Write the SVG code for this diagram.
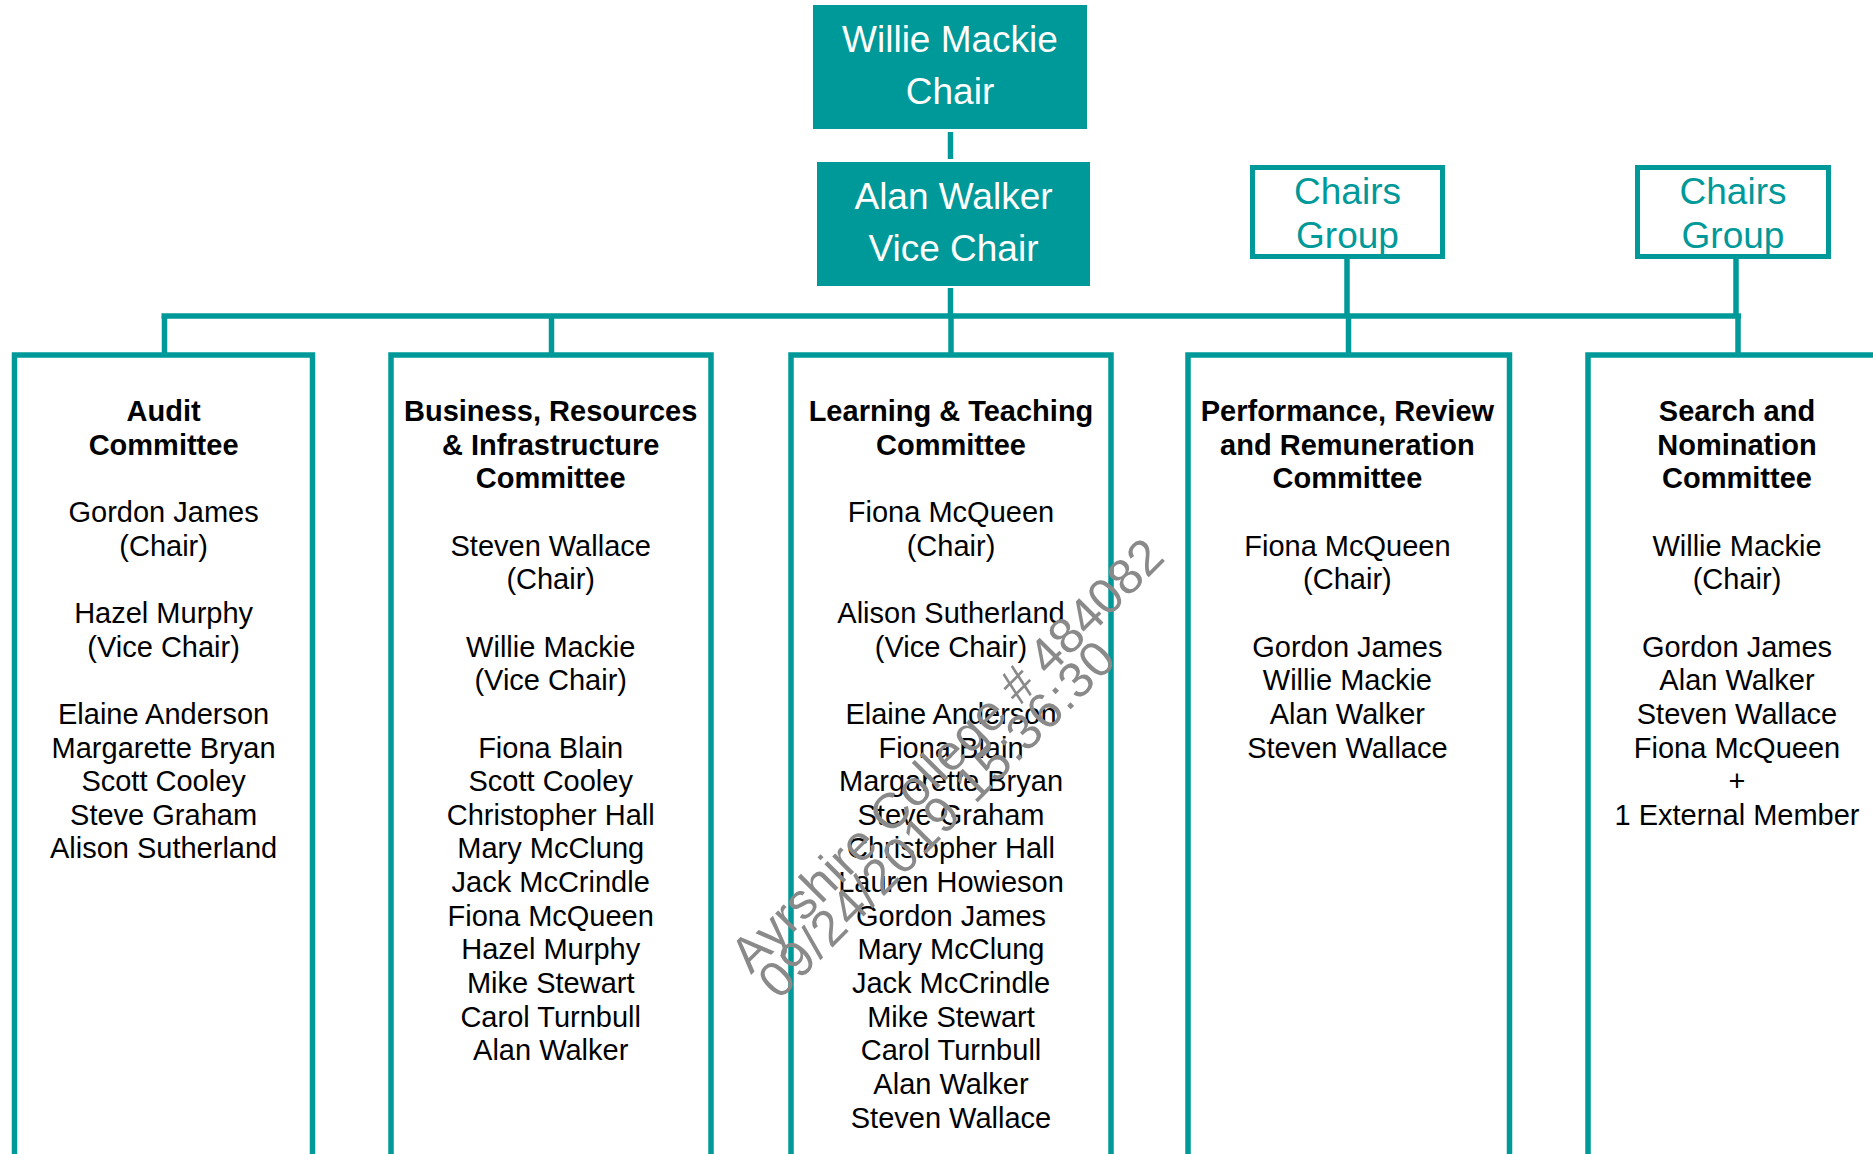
<svg xmlns="http://www.w3.org/2000/svg" width="1873" height="1154" viewBox="0 0 1873 1154">
  <style>
    .solid { fill: #009999; }
    .head { font-family: "Liberation Sans", Arial, sans-serif; font-size: 37px; fill: #ffffff; text-anchor: middle; }
    .grp { fill: #ffffff; stroke: #009999; stroke-width: 5; }
    .grptxt { font-family: "Liberation Sans", Arial, sans-serif; font-size: 37px; fill: #009999; text-anchor: middle; }
    .cbox { fill: none; stroke: #009999; stroke-width: 5.5; }
    .c text { font-family: "Liberation Sans", Arial, sans-serif; font-size: 29px; fill: #000000; text-anchor: middle; }
    .c text.t { font-weight: bold; }
    .wire { stroke: #009999; stroke-width: 5.5; fill: none; }
    .mark { font-family: "Liberation Sans", Arial, sans-serif; font-size: 50px; fill: #8a8a8a; }
  </style>
  <rect width="1873" height="1154" fill="#ffffff"/>

  <!-- connectors -->
  <g id="connectors">
    <line class="wire" x1="950.5" y1="132" x2="950.5" y2="159" stroke-width="7"/>
    <line class="wire" x1="950.5" y1="288" x2="950.5" y2="316" stroke-width="7"/>
    <line class="wire" x1="161.5" y1="316" x2="1741" y2="316" stroke-width="6"/>
    <line class="wire" x1="1347" y1="259" x2="1347" y2="316"/>
    <line class="wire" x1="1736" y1="259" x2="1736" y2="316"/>
    <line class="wire" x1="164.5" y1="316" x2="164.5" y2="355"/>
    <line class="wire" x1="551.5" y1="316" x2="551.5" y2="355"/>
    <line class="wire" x1="951" y1="316" x2="951" y2="355"/>
    <line class="wire" x1="1348.5" y1="316" x2="1348.5" y2="355"/>
    <line class="wire" x1="1738" y1="316" x2="1738" y2="355"/>
  </g>

  <!-- board officers -->
  <g id="chair">
    <rect class="solid" x="813" y="5" width="274" height="124"/>
    <text class="head" x="950" y="52">Willie Mackie</text>
    <text class="head" x="950" y="104">Chair</text>
  </g>
  <g id="vice-chair">
    <rect class="solid" x="817" y="162" width="273" height="124"/>
    <text class="head" x="953.5" y="209">Alan Walker</text>
    <text class="head" x="953.5" y="261">Vice Chair</text>
  </g>

  <!-- chairs groups -->
  <g id="chairs-group-1">
    <rect class="grp" x="1252.5" y="167.5" width="190" height="89"/>
    <text class="grptxt" x="1347.5" y="204">Chairs</text>
    <text class="grptxt" x="1347.5" y="248">Group</text>
  </g>
  <g id="chairs-group-2">
    <rect class="grp" x="1637.5" y="167.5" width="191" height="89"/>
    <text class="grptxt" x="1733" y="204">Chairs</text>
    <text class="grptxt" x="1733" y="248">Group</text>
  </g>

  <!-- committees: title lines in bold, members below, 33.65px line pitch -->
  <g id="audit" class="c">
    <rect class="cbox" x="14.5" y="355" width="298" height="830"/>
    <text class="t" x="163.6" y="421">Audit</text>
    <text class="t" x="163.6" y="454.65">Committee</text>
    <text x="163.6" y="521.95">Gordon James</text>
    <text x="163.6" y="555.6">(Chair)</text>
    <text x="163.6" y="622.9">Hazel Murphy</text>
    <text x="163.6" y="656.55">(Vice Chair)</text>
    <text x="163.6" y="723.85">Elaine Anderson</text>
    <text x="163.6" y="757.5">Margarette Bryan</text>
    <text x="163.6" y="791.15">Scott Cooley</text>
    <text x="163.6" y="824.8">Steve Graham</text>
    <text x="163.6" y="858.45">Alison Sutherland</text>
  </g>

  <g id="business" class="c">
    <rect class="cbox" x="391" y="355" width="320" height="830"/>
    <text class="t" x="550.7" y="421">Business, Resources</text>
    <text class="t" x="550.7" y="454.65">&amp; Infrastructure</text>
    <text class="t" x="550.7" y="488.3">Committee</text>
    <text x="550.7" y="555.6">Steven Wallace</text>
    <text x="550.7" y="589.25">(Chair)</text>
    <text x="550.7" y="656.55">Willie Mackie</text>
    <text x="550.7" y="690.2">(Vice Chair)</text>
    <text x="550.7" y="757.5">Fiona Blain</text>
    <text x="550.7" y="791.15">Scott Cooley</text>
    <text x="550.7" y="824.8">Christopher Hall</text>
    <text x="550.7" y="858.45">Mary McClung</text>
    <text x="550.7" y="892.1">Jack McCrindle</text>
    <text x="550.7" y="925.75">Fiona McQueen</text>
    <text x="550.7" y="959.4">Hazel Murphy</text>
    <text x="550.7" y="993.05">Mike Stewart</text>
    <text x="550.7" y="1026.7">Carol Turnbull</text>
    <text x="550.7" y="1060.35">Alan Walker</text>
  </g>

  <g id="learning" class="c">
    <rect class="cbox" x="791" y="355" width="320" height="830"/>
    <text class="t" x="951" y="421">Learning &amp; Teaching</text>
    <text class="t" x="951" y="454.65">Committee</text>
    <text x="951" y="521.95">Fiona McQueen</text>
    <text x="951" y="555.6">(Chair)</text>
    <text x="951" y="622.9">Alison Sutherland</text>
    <text x="951" y="656.55">(Vice Chair)</text>
    <text x="951" y="723.85">Elaine Anderson</text>
    <text x="951" y="757.5">Fiona Blain</text>
    <text x="951" y="791.15">Margarette Bryan</text>
    <text x="951" y="824.8">Steve Graham</text>
    <text x="951" y="858.45">Christopher Hall</text>
    <text x="951" y="892.1">Lauren Howieson</text>
    <text x="951" y="925.75">Gordon James</text>
    <text x="951" y="959.4">Mary McClung</text>
    <text x="951" y="993.05">Jack McCrindle</text>
    <text x="951" y="1026.7">Mike Stewart</text>
    <text x="951" y="1060.35">Carol Turnbull</text>
    <text x="951" y="1094">Alan Walker</text>
    <text x="951" y="1127.65">Steven Wallace</text>
  </g>

  <g id="performance" class="c">
    <rect class="cbox" x="1188" y="355" width="321.5" height="830"/>
    <text class="t" x="1347.4" y="421">Performance, Review</text>
    <text class="t" x="1347.4" y="454.65">and Remuneration</text>
    <text class="t" x="1347.4" y="488.3">Committee</text>
    <text x="1347.4" y="555.6">Fiona McQueen</text>
    <text x="1347.4" y="589.25">(Chair)</text>
    <text x="1347.4" y="656.55">Gordon James</text>
    <text x="1347.4" y="690.2">Willie Mackie</text>
    <text x="1347.4" y="723.85">Alan Walker</text>
    <text x="1347.4" y="757.5">Steven Wallace</text>
  </g>

  <g id="search" class="c">
    <rect class="cbox" x="1588" y="355" width="320" height="830"/>
    <text class="t" x="1737" y="421">Search and</text>
    <text class="t" x="1737" y="454.65">Nomination</text>
    <text class="t" x="1737" y="488.3">Committee</text>
    <text x="1737" y="555.6">Willie Mackie</text>
    <text x="1737" y="589.25">(Chair)</text>
    <text x="1737" y="656.55">Gordon James</text>
    <text x="1737" y="690.2">Alan Walker</text>
    <text x="1737" y="723.85">Steven Wallace</text>
    <text x="1737" y="757.5">Fiona McQueen</text>
    <text x="1737" y="791.15">+</text>
    <text x="1737" y="824.8">1 External Member</text>
  </g>

  <!-- document stamp -->
  <g id="stamp">
    <text class="mark" x="751" y="975" transform="rotate(-45 751 975)" textLength="588" lengthAdjust="spacing">Ayrshire College # 484082</text>
    <text class="mark" x="779" y="1001" transform="rotate(-45 779 1001)" textLength="480" lengthAdjust="spacing">09/24/2019 15:36:30</text>
  </g>
</svg>
